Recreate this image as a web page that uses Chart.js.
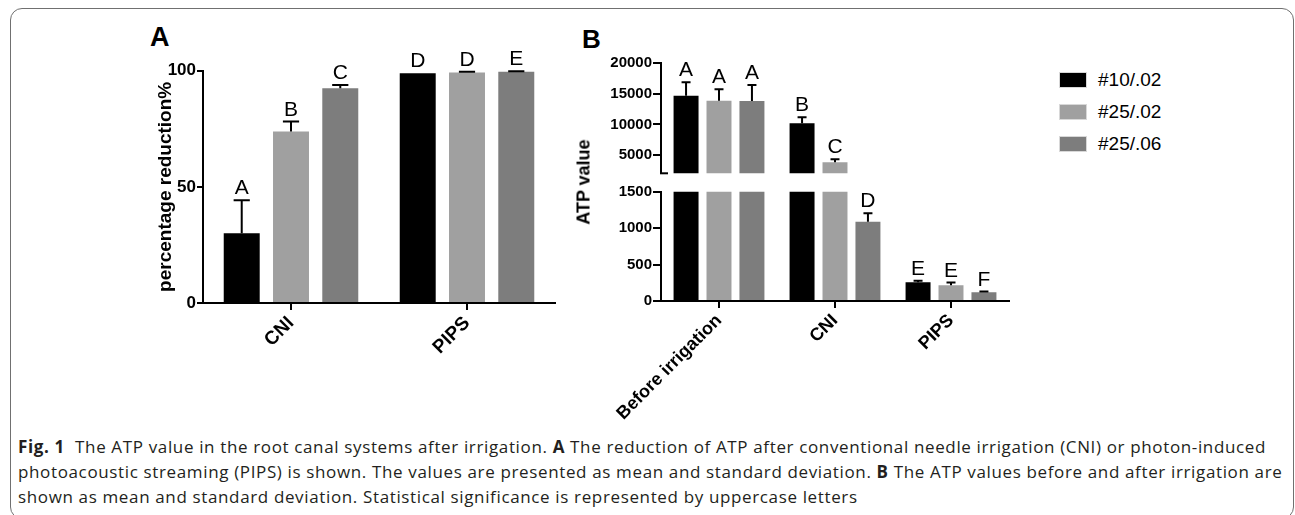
<!DOCTYPE html>
<html>
<head>
<meta charset="utf-8">
<title>ATP value after irrigation</title>
<script src="https://cdn.jsdelivr.net/npm/chart.js@4.4.0/dist/chart.umd.min.js"></script>
<style>
  html, body { margin: 0; padding: 0; background: #fff; }
  #page { position: relative; width: 1295px; height: 515px; overflow: hidden; background: #fff;
          font-family: 'Liberation Sans', Arial, sans-serif; color: #000; }
  #frame { position: absolute; left: 10px; top: 8px; width: 1284px; height: 511px;
           border: 1.5px solid #707070; border-radius: 12px; box-sizing: border-box; }
  canvas { position: absolute; }
  .panel { position: absolute; font-weight: bold; line-height: 1; }
  #ytitleB { position: absolute; left: 584px; top: 182px; width: 0; height: 0; }
  #ytitleB span { position: absolute; transform: translate(-50%, -50%) rotate(-90deg);
                  white-space: nowrap; font-weight: bold; font-size: 18px; }
  .legend-row { position: absolute; left: 1059px; height: 16px; display: flex; align-items: center; }
  .swatch { width: 28px; height: 16px; box-sizing: border-box; border: 1px solid #d8d8d8; }
  .legend-text { margin-left: 11px; font-size: 19px; line-height: 16px; }
  #caption { position: absolute; left: 18px; top: 434px; font-family: 'Open Sans', 'Noto Sans', sans-serif;
             font-size: 17px; line-height: 25px; color: #231f20; white-space: nowrap; }
  #caption div { display: inline-block; }
</style>
</head>
<body>
<div id="page">
  <div id="frame"></div>
  <div class="panel" style="left:150px; top:24px; font-size:27px;">A</div>
  <div class="panel" style="left:582px; top:26px; font-size:26px;">B</div>
  <canvas id="reductionChart" width="430" height="343" style="left:130px; top:30px;"></canvas>
  <canvas id="atpHighChart" width="454" height="160" style="left:560px; top:20px;"></canvas>
  <canvas id="atpLowChart" width="454" height="246" style="left:560px; top:180px;"></canvas>
  <div id="ytitleB"><span>ATP value</span></div>
  <div id="legend"></div>
  <div id="caption">
    <div id="capLine1"><b>Fig. 1</b>&nbsp;&nbsp;The ATP value in the root canal systems after irrigation. <b>A</b> The reduction of ATP after conventional needle irrigation (CNI) or photon-induced</div><br>
    <div>photoacoustic streaming (PIPS) is shown. The values are presented as mean and standard deviation. <b>B</b> The ATP values before and after irrigation are</div><br>
    <div>shown as mean and standard deviation. Statistical significance is represented by uppercase letters</div>
  </div>
</div>

<script>
// Data
const seriesNames = ['#10/.02', '#25/.02', '#25/.06'];
const seriesColors = ['#000000', '#a0a0a0', '#7d7d7d'];

// Panel A: percentage reduction
const reductionCategories = ['CNI', 'PIPS'];
const reductionTicks = [0, 50, 100];
const reductionMean10 = [30, 98.9];
const reductionMean25a = [73.8, 99.2];
const reductionMean25b = [92.4, 99.6];
const reductionSd10 = [14.2, 0];
const reductionSd25a = [4.3, 0.3];
const reductionSd25b = [1.4, 0.2];
const reductionLetters10 = ['A', 'D'];
const reductionLetters25a = ['B', 'D'];
const reductionLetters25b = ['C', 'E'];

// Panel B: ATP values (broken axis)
const atpCategories = ['Before irrigation', 'CNI', 'PIPS'];
const atpHighTicks = [5000, 10000, 15000, 20000];
const atpLowTicks = [0, 500, 1000, 1500];
const atpMean10 = [14700, 10180, 257];
const atpMean25a = [13880, 3800, 215];
const atpMean25b = [13850, 1088, 120];
const atpSd10 = [2200, 980, 22];
const atpSd25a = [1870, 490, 38];
const atpSd25b = [2600, 115, 9];
const atpLetters10 = ['A', 'B', 'E'];
const atpLetters25a = ['A', 'C', 'E'];
const atpLetters25b = ['A', 'D', 'F'];

Chart.defaults.font.family = "'Liberation Sans', Arial, sans-serif";
Chart.defaults.color = '#000';

// error bars (upper half only) + significance letters
const errorBarPlugin = {
    id: 'errorBars',
    afterDatasetsDraw(chart, args, opts) {
        const ctx = chart.ctx;
        const y = chart.scales.y;
        ctx.save();
        chart.data.datasets.forEach((ds, i) => {
            chart.getDatasetMeta(i).data.forEach((bar, j) => {
                const top = ds.data[j] + ds.sd[j];
                if (top < y.min || top > y.max) return;
                const yMean = y.getPixelForValue(Math.max(ds.data[j], y.min));
                const yTop = y.getPixelForValue(top);
                if (ds.sd[j] > 0) {
                    const half = bar.width * opts.capRatio / 2;
                    ctx.strokeStyle = '#000';
                    ctx.lineWidth = 2;
                    ctx.beginPath();
                    ctx.moveTo(bar.x, yMean);
                    ctx.lineTo(bar.x, yTop);
                    ctx.moveTo(bar.x - half, yTop);
                    ctx.lineTo(bar.x + half, yTop);
                    ctx.stroke();
                }
                ctx.fillStyle = '#000';
                ctx.font = "21px 'Liberation Sans', Arial, sans-serif";
                ctx.textAlign = 'center';
                ctx.textBaseline = 'alphabetic';
                ctx.fillText(ds.letters[j], bar.x, yTop - opts.gap);
            });
        });
        ctx.restore();
    }
};

// little stub marking the axis break
const breakMarkPlugin = {
    id: 'breakMark',
    afterDraw(chart, args, opts) {
        if (!opts.show) return;
        const ctx = chart.ctx, area = chart.chartArea;
        ctx.save();
        ctx.strokeStyle = '#000';
        ctx.lineWidth = 2;
        ctx.beginPath();
        ctx.moveTo(area.left - 1, area.bottom);
        ctx.lineTo(area.left + 7, area.bottom);
        ctx.stroke();
        ctx.restore();
    }
};

function makeDatasets(means, sds, letters, cp, bp) {
    return means.map((m, i) => ({
        label: seriesNames[i],
        data: m,
        sd: sds[i],
        letters: letters[i],
        backgroundColor: seriesColors[i],
        borderWidth: 0,
        categoryPercentage: cp,
        barPercentage: bp,
        clip: 0
    }));
}

function yAxis(ticks, min, max, width, fontSize, tickLen) {
    return {
        min: min, max: max,
        afterBuildTicks: s => { s.ticks = ticks.map(v => ({ value: v })); },
        afterFit: s => { s.width = width; s.paddingTop = 0; s.paddingBottom = 0; },
        grid: { drawOnChartArea: false, color: '#000', lineWidth: 2, tickLength: tickLen },
        border: { display: true, color: '#000', width: 2 },
        ticks: { font: { size: fontSize, weight: 'bold' }, padding: 1, color: '#000',
                 callback: v => String(v) }
    };
}

function xAxis(show, height, fontSize) {
    return {
        display: show,
        afterFit: s => { s.height = height; s.paddingLeft = 0; s.paddingRight = 0; },
        grid: { offset: false, drawOnChartArea: false, color: '#000', lineWidth: 2, tickLength: 7 },
        border: { display: true, color: '#000', width: 2 },
        ticks: { font: { size: fontSize, weight: 'bold' }, minRotation: 45, maxRotation: 45,
                 autoSkip: false, padding: 2, color: '#000' }
    };
}

const baseOptions = {
    responsive: false,
    animation: false,
    events: [],
    plugins: { legend: { display: false }, tooltip: { enabled: false } }
};

// 1. Percentage reduction chart
const reductionY = yAxis(reductionTicks, 0, 100, 73, 17, 6);
reductionY.title = { display: true, text: 'percentage reduction%', font: { size: 19, weight: 'bold' },
                     padding: { top: 24, bottom: 0 }, color: '#000' };
new Chart(document.getElementById('reductionChart'), {
    type: 'bar',
    data: {
        labels: reductionCategories,
        datasets: makeDatasets(
            [reductionMean10, reductionMean25a, reductionMean25b],
            [reductionSd10, reductionSd25a, reductionSd25b],
            [reductionLetters10, reductionLetters25a, reductionLetters25b], 0.84, 0.73)
    },
    options: Object.assign({}, baseOptions, {
        layout: { padding: { top: 40.7, right: 5, bottom: 0, left: 0 } },
        scales: { x: xAxis(true, 70, 19), y: reductionY },
        plugins: Object.assign({}, baseOptions.plugins, { errorBars: { capRatio: 0.45, gap: 6 } })
    }),
    plugins: [errorBarPlugin]
});

// 2. ATP chart, upper segment (2000 - 20000)
new Chart(document.getElementById('atpHighChart'), {
    type: 'bar',
    data: {
        labels: atpCategories,
        datasets: makeDatasets(
            [atpMean10, atpMean25a, atpMean25b],
            [atpSd10, atpSd25a, atpSd25b],
            [atpLetters10, atpLetters25a, atpLetters25b], 0.852, 0.758)
    },
    options: Object.assign({}, baseOptions, {
        layout: { padding: { top: 43.3, right: 5, bottom: 6.7, left: 0 } },
        scales: { x: xAxis(false, 0, 18), y: yAxis(atpHighTicks, 2000, 20000, 101, 15, 8) },
        plugins: Object.assign({}, baseOptions.plugins, {
            errorBars: { capRatio: 0.36, gap: 6 },
            breakMark: { show: true }
        })
    }),
    plugins: [errorBarPlugin, breakMarkPlugin]
});

// 3. ATP chart, lower segment (0 - 1500)
new Chart(document.getElementById('atpLowChart'), {
    type: 'bar',
    data: {
        labels: atpCategories,
        datasets: makeDatasets(
            [atpMean10, atpMean25a, atpMean25b],
            [atpSd10, atpSd25a, atpSd25b],
            [atpLetters10, atpLetters25a, atpLetters25b], 0.852, 0.758)
    },
    options: Object.assign({}, baseOptions, {
        layout: { padding: { top: 11.7, right: 5, bottom: 0, left: 0 } },
        scales: { x: xAxis(true, 125, 18), y: yAxis(atpLowTicks, 0, 1500, 101, 15, 8) },
        plugins: Object.assign({}, baseOptions.plugins, { errorBars: { capRatio: 0.36, gap: 6 } })
    }),
    plugins: [errorBarPlugin]
});

// Legend
const legend = document.getElementById('legend');
const legendTops = [71.7, 103.5, 135.7];
seriesNames.forEach((name, i) => {
    const row = document.createElement('div');
    row.className = 'legend-row';
    row.style.top = legendTops[i] + 'px';
    row.innerHTML = '<div class="swatch" style="background:' + seriesColors[i] + '"></div>' +
                    '<span class="legend-text">' + name + '</span>';
    legend.appendChild(row);
});

// stretch caption letter spacing so the first line spans the same width as the figure's
const capLine1 = document.getElementById('capLine1');
const capWidth = capLine1.getBoundingClientRect().width;
const capChars = capLine1.textContent.length;
document.getElementById('caption').style.letterSpacing = ((1248 - capWidth) / capChars).toFixed(3) + 'px';
</script>
</body>
</html>
